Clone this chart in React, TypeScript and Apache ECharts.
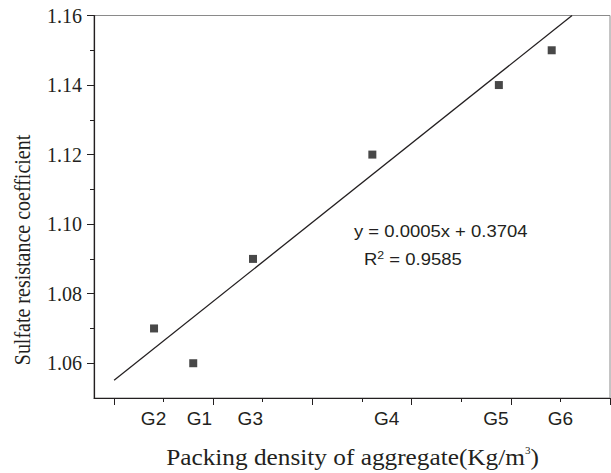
import React, { useEffect, useRef } from "react";
import * as echarts from "echarts";

// Packing density (kg/m3) and sulfate resistance coefficient per aggregate group
const groups = ["G2", "G1", "G3", "G4", "G5", "G6"];
const density = [1396.2, 1412.0, 1436.1, 1484.2, 1535.2, 1556.5];
const coefficient = [1.07, 1.06, 1.09, 1.12, 1.14, 1.15];

// Group label positions along the x axis
const groupLabelPos = [1396, 1414.5, 1435, 1490, 1534, 1560];

// Fitted line end points (as drawn)
const fitX = [1380.1, 1564.7];
const fitY = [1.0551, 1.16];

// Axis ticks
const xMajorTicks = [1380, 1420, 1460, 1500, 1540, 1580];
const xMinorTicks = [1400, 1440, 1480, 1520, 1560];
const yMajorTicks = [1.06, 1.08, 1.1, 1.12, 1.14, 1.16];
const yMinorTicks = [1.07, 1.09, 1.11, 1.13, 1.15];

const equationText = "y = 0.0005x + 0.3704";
const r2Value = "0.9585";

const SERIF = "'Liberation Serif', 'Times New Roman', serif";
const SANS = "'Liberation Sans', Arial, sans-serif";
const INK = "#231f20";

export default function App() {
  const ref = useRef<HTMLDivElement>(null);
  useEffect(() => {
    if (!ref.current) return;
    const chart = echarts.init(ref.current, null, { renderer: "svg" });
    const xMin = 1372;
    const xMax = 1580;
    const option: any = {
      animation: false,
      backgroundColor: "#ffffff",
      grid: {
        left: 94,
        top: 15.5,
        right: 1,
        bottom: 75,
        show: true,
        borderColor: "#8a8a8a",
        borderWidth: 1,
        outerBoundsMode: "none",
      },
      xAxis: [
        {
          type: "value",
          min: xMin,
          max: xMax,
          position: "bottom",
          splitLine: { show: false },
          axisLine: { show: true, lineStyle: { color: INK, width: 1.2 } },
          axisTick: {
            show: true,
            inside: false,
            length: 7,
            customValues: xMajorTicks,
            lineStyle: { color: INK, width: 1 },
          },
          axisLabel: {
            show: true,
            customValues: groupLabelPos,
            margin: 11,
            color: INK,
            fontFamily: SANS,
            fontSize: 19,
            formatter: (v: number) => {
              let best = 0;
              for (let i = 1; i < groupLabelPos.length; i++) {
                if (Math.abs(groupLabelPos[i] - v) < Math.abs(groupLabelPos[best] - v)) best = i;
              }
              return groups[best];
            },
          },
        },
        {
          type: "value",
          min: xMin,
          max: xMax,
          position: "bottom",
          splitLine: { show: false },
          axisLine: { show: false },
          axisTick: {
            show: true,
            inside: false,
            length: 4,
            customValues: xMinorTicks,
            lineStyle: { color: INK, width: 1 },
          },
          axisLabel: { show: false },
        },
      ],
      yAxis: [
        {
          type: "value",
          min: 1.05,
          max: 1.16,
          position: "left",
          splitLine: { show: false },
          axisLine: { show: true, lineStyle: { color: INK, width: 1.2 } },
          axisTick: {
            show: true,
            inside: false,
            length: 7,
            customValues: yMajorTicks,
            lineStyle: { color: INK, width: 1 },
          },
          axisLabel: {
            show: true,
            customValues: yMajorTicks,
            margin: 12,
            color: INK,
            fontFamily: SERIF,
            fontSize: 20,
            formatter: (v: number) => v.toFixed(2),
          },
        },
        {
          type: "value",
          min: 1.05,
          max: 1.16,
          position: "left",
          splitLine: { show: false },
          axisLine: { show: false },
          axisTick: {
            show: true,
            inside: false,
            length: 4,
            customValues: yMinorTicks,
            lineStyle: { color: INK, width: 1 },
          },
          axisLabel: { show: false },
        },
      ],
      series: [
        {
          type: "line",
          xAxisIndex: 0,
          yAxisIndex: 0,
          data: fitX.map((x, i) => [x, fitY[i]]),
          showSymbol: false,
          symbol: "none",
          lineStyle: { color: INK, width: 1.3 },
          z: 2,
        },
        {
          type: "scatter",
          xAxisIndex: 0,
          yAxisIndex: 0,
          data: density.map((x, i) => [x, coefficient[i]]),
          symbol: "rect",
          symbolSize: 8,
          itemStyle: { color: "#1a1a1a" },
          z: 3,
        },
      ],
      graphic: [
        {
          type: "text",
          x: 354,
          y: 231,
          scaleX: 1.12,
          style: {
            text: equationText,
            fontFamily: SANS,
            fontSize: 16.5,
            fill: INK,
            align: "left",
            verticalAlign: "middle",
          },
        },
        {
          type: "text",
          x: 364,
          y: 259,
          scaleX: 1.12,
          style: {
            text: "R{sup|2} = " + r2Value,
            fontFamily: SANS,
            fontSize: 16.5,
            fill: INK,
            align: "left",
            verticalAlign: "middle",
            rich: {
              sup: { fontSize: 11, fontFamily: SANS, fill: INK, padding: [0, 0, 9, 0] },
            },
          },
        },
        {
          type: "text",
          x: 352.5,
          y: 457,
          scaleX: 1.1,
          style: {
            text: "Packing density of aggregate(Kg/m{sup|3})",
            fontFamily: SERIF,
            fontSize: 23,
            fill: INK,
            align: "center",
            verticalAlign: "middle",
            rich: {
              sup: { fontSize: 10, fontFamily: SERIF, fill: INK, padding: [0, 0, 12, 0] },
            },
          },
        },
        {
          type: "text",
          x: 23,
          y: 250,
          rotation: Math.PI / 2,
          scaleY: 1.12,
          style: {
            text: "Sulfate resistance coefficient",
            fontFamily: SERIF,
            fontSize: 20,
            fill: INK,
            align: "center",
            verticalAlign: "middle",
          },
        },
      ],
    };
    chart.setOption(option);
    return () => chart.dispose();
  }, []);
  return (
    <div
      ref={ref}
      style={{ position: "fixed", left: 0, top: 0, width: 611, height: 473, background: "#fff" }}
    />
  );
}
